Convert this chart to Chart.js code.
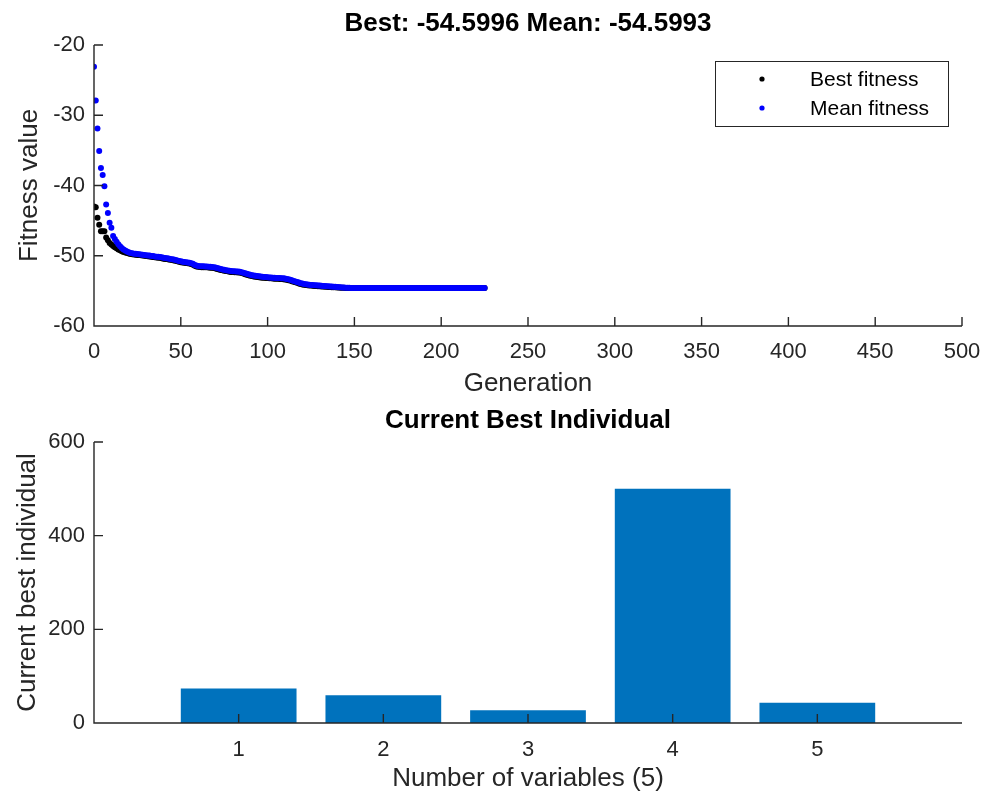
<!DOCTYPE html>
<html><head><meta charset="utf-8">
<script src="https://cdn.jsdelivr.net/npm/chart.js@4"></script>
<style>
html,body{margin:0;padding:0;background:#fff;}
#wrap{position:relative;width:990px;height:798px;background:#fff;}
canvas{position:absolute;left:0;}
#c1{top:0;}
#c2{top:400px;}
</style></head><body>
<div id="wrap">
<canvas id="c1" width="990" height="400"></canvas>
<canvas id="c2" width="990" height="398"></canvas>
</div>
<script>
// ---------- DATA ----------
const topTitle = 'Best: -54.5996 Mean: -54.5993';
const bottomTitle = 'Current Best Individual';
const generations = Array.from({length: 226}, (_, i) => i);
const bestFitness = [
 -43.0,-43.1,-44.6,-45.6,-46.5,-46.5,-46.5,-47.4,-47.8,-48.2,
 -48.4,-48.6,-48.8,-48.95,-49.1,-49.2,-49.35,-49.45,-49.55,-49.62,
 -49.68,-49.74,-49.78,-49.82,-49.85,-49.88,-49.9,-49.94,-49.97,-50.0,
 -50.04,-50.07,-50.1,-50.14,-50.17,-50.22,-50.25,-50.27,-50.3,-50.34,
 -50.42,-50.45,-50.48,-50.52,-50.57,-50.62,-50.67,-50.72,-50.8,-50.87,
 -50.92,-50.97,-51.0,-51.04,-51.07,-51.12,-51.17,-51.27,-51.42,-51.52,
 -51.57,-51.6,-51.62,-51.62,-51.64,-51.65,-51.67,-51.7,-51.72,-51.74,
 -51.8,-51.87,-51.94,-52.02,-52.07,-52.12,-52.17,-52.22,-52.27,-52.3,
 -52.32,-52.34,-52.36,-52.37,-52.4,-52.47,-52.54,-52.62,-52.7,-52.77,
 -52.84,-52.9,-52.94,-52.98,-53.02,-53.05,-53.08,-53.12,-53.14,-53.16,
 -53.18,-53.2,-53.22,-53.24,-53.26,-53.27,-53.29,-53.3,-53.32,-53.34,
 -53.37,-53.42,-53.48,-53.54,-53.62,-53.7,-53.78,-53.86,-53.94,-54.02,
 -54.08,-54.13,-54.17,-54.2,-54.23,-54.25,-54.27,-54.29,-54.31,-54.33,
 -54.35,-54.37,-54.39,-54.4,-54.42,-54.44,-54.45,-54.47,-54.49,-54.5,
 -54.52,-54.53,-54.54,-54.56,-54.57,-54.58,-54.585,-54.59,-54.593,-54.595,
 -54.597,-54.598,-54.599,-54.5995,
 -54.5996,-54.5996,-54.5996,-54.5996,-54.5996,-54.5996,-54.5996,-54.5996,-54.5996,
 -54.5996,-54.5996,-54.5996,-54.5996,-54.5996,-54.5996,-54.5996,-54.5996,-54.5996,
 -54.5996,-54.5996,-54.5996,-54.5996,-54.5996,-54.5996,-54.5996,-54.5996,-54.5996,
 -54.5996,-54.5996,-54.5996,-54.5996,-54.5996,-54.5996,-54.5996,-54.5996,-54.5996,
 -54.5996,-54.5996,-54.5996,-54.5996,-54.5996,-54.5996,-54.5996,-54.5996,-54.5996,
 -54.5996,-54.5996,-54.5996,-54.5996,-54.5996,-54.5996,-54.5996,-54.5996,-54.5996,
 -54.5996,-54.5996,-54.5996,-54.5996,-54.5996,-54.5996,-54.5996,-54.5996,-54.5996,
 -54.5996,-54.5996,-54.5996,-54.5996,-54.5996,-54.5996,-54.5996,-54.5996,-54.5996
];
const meanFitness = [
 -23.1,-27.9,-31.9,-35.1,-37.5,-38.5,-40.1,-42.7,-43.9,-45.3,
 -46.0,-47.2,-47.6,-48.0,-48.35,-48.65,-48.9,-49.1,-49.25,-49.4,
 -49.5,-49.6,-49.65,-49.7,-49.72,-49.75,-49.78,-49.82,-49.85,-49.88,
 -49.92,-49.95,-49.98,-50.02,-50.05,-50.1,-50.13,-50.15,-50.18,-50.22,
 -50.3,-50.33,-50.36,-50.4,-50.45,-50.5,-50.55,-50.6,-50.68,-50.75,
 -50.8,-50.85,-50.88,-50.92,-50.95,-51.0,-51.05,-51.15,-51.3,-51.4,
 -51.45,-51.48,-51.5,-51.5,-51.52,-51.53,-51.55,-51.58,-51.6,-51.62,
 -51.68,-51.75,-51.82,-51.9,-51.95,-52.0,-52.05,-52.1,-52.15,-52.18,
 -52.2,-52.22,-52.24,-52.25,-52.28,-52.35,-52.42,-52.5,-52.58,-52.65,
 -52.72,-52.78,-52.82,-52.86,-52.9,-52.93,-52.96,-53.0,-53.02,-53.04,
 -53.06,-53.08,-53.1,-53.12,-53.14,-53.15,-53.17,-53.18,-53.2,-53.22,
 -53.25,-53.3,-53.36,-53.42,-53.5,-53.58,-53.66,-53.74,-53.82,-53.9,
 -53.96,-54.02,-54.06,-54.1,-54.13,-54.15,-54.17,-54.19,-54.21,-54.23,
 -54.25,-54.27,-54.29,-54.31,-54.33,-54.35,-54.37,-54.39,-54.41,-54.43,
 -54.45,-54.47,-54.49,-54.51,-54.53,-54.55,-54.56,-54.57,-54.58,-54.585,
 -54.59,-54.593,-54.595,-54.597,
 -54.5993,-54.5993,-54.5993,-54.5993,-54.5993,-54.5993,-54.5993,-54.5993,-54.5993,
 -54.5993,-54.5993,-54.5993,-54.5993,-54.5993,-54.5993,-54.5993,-54.5993,-54.5993,
 -54.5993,-54.5993,-54.5993,-54.5993,-54.5993,-54.5993,-54.5993,-54.5993,-54.5993,
 -54.5993,-54.5993,-54.5993,-54.5993,-54.5993,-54.5993,-54.5993,-54.5993,-54.5993,
 -54.5993,-54.5993,-54.5993,-54.5993,-54.5993,-54.5993,-54.5993,-54.5993,-54.5993,
 -54.5993,-54.5993,-54.5993,-54.5993,-54.5993,-54.5993,-54.5993,-54.5993,-54.5993,
 -54.5993,-54.5993,-54.5993,-54.5993,-54.5993,-54.5993,-54.5993,-54.5993,-54.5993,
 -54.5993,-54.5993,-54.5993,-54.5993,-54.5993,-54.5993,-54.5993,-54.5993,-54.5993
];
const variables = [1, 2, 3, 4, 5];
const bestIndividual = [73.5, 59, 27, 500, 43.5];
const barTicks = [1, 2, 3, 4, 5];

// ---------- STYLE ----------
const FONT = "'Liberation Sans', Arial, Helvetica, sans-serif";
const AX = '#262626';
const TICK_SIZE = 22, LABEL_SIZE = 26, TITLE_SIZE = 26, LEGEND_SIZE = 21;
Chart.defaults.font.family = FONT;
Chart.defaults.color = AX;

function fitX(h) { return function (s) { s.height = h; s.paddingLeft = 0; s.paddingRight = 0; }; }
function fitY(s) { s.width = 94; s.paddingTop = 0; s.paddingBottom = 0; }

const axesPlugin = {
  id: 'matlabAxes',
  afterDatasetsDraw(chart) {
    const ctx = chart.ctx, a = chart.chartArea;
    const xs = chart.scales.x, ys = chart.scales.y;
    ctx.save();
    ctx.strokeStyle = AX; ctx.lineWidth = 1.4; ctx.lineCap = 'butt';
    ctx.beginPath();
    ctx.moveTo(a.left, a.top); ctx.lineTo(a.left, a.bottom); ctx.lineTo(a.right, a.bottom);
    xs.ticks.forEach(t => { const p = xs.getPixelForValue(t.value); ctx.moveTo(p, a.bottom); ctx.lineTo(p, a.bottom - 9); });
    ys.ticks.forEach(t => { const p = ys.getPixelForValue(t.value); ctx.moveTo(a.left, p); ctx.lineTo(a.left + 9, p); });
    ctx.stroke();
    ctx.restore();
  }
};

const legendPlugin = {
  id: 'boxLegend',
  afterDraw(chart) {
    if (chart.canvas.id !== 'c1') return;
    const ctx = chart.ctx;
    ctx.save();
    ctx.fillStyle = '#fff';
    ctx.fillRect(715, 61, 233, 65);
    ctx.strokeStyle = AX; ctx.lineWidth = 1;
    ctx.strokeRect(715.5, 61.5, 233, 65);
    const ys = [79, 108];
    chart.data.datasets.forEach((ds, i) => {
      ctx.fillStyle = ds.backgroundColor;
      ctx.beginPath(); ctx.arc(762, ys[i], 2.6, 0, Math.PI * 2); ctx.fill();
      ctx.fillStyle = '#000';
      ctx.font = LEGEND_SIZE + 'px ' + FONT;
      ctx.textBaseline = 'middle'; ctx.textAlign = 'left';
      ctx.fillText(ds.label, 810, ys[i] + 1);
    });
    ctx.restore();
  }
};

new Chart(document.getElementById('c1'), {
  type: 'scatter',
  data: {
    datasets: [
      { label: 'Best fitness', data: generations.map((g, i) => ({x: g, y: bestFitness[i]})),
        backgroundColor: '#000000', borderColor: '#000000', pointRadius: 3, pointBorderWidth: 0, order: 2 },
      { label: 'Mean fitness', data: generations.map((g, i) => ({x: g, y: meanFitness[i]})),
        backgroundColor: '#0000ff', borderColor: '#0000ff', pointRadius: 3, pointBorderWidth: 0, order: 1 }
    ]
  },
  options: {
    responsive: false, animation: false, devicePixelRatio: 1,
    layout: { padding: { left: 0, right: 28, top: 0, bottom: 0 } },
    plugins: {
      legend: { display: false }, tooltip: { enabled: false },
      title: { display: true, text: topTitle, fullSize: false, color: '#000',
        font: { size: TITLE_SIZE, weight: 'bold' }, padding: { top: 8.4, bottom: 5.4 } }
    },
    scales: {
      x: { type: 'linear', min: 0, max: 500,
        ticks: { stepSize: 50, font: { size: TICK_SIZE }, color: AX, padding: 13, maxRotation: 0 },
        grid: { display: false, drawTicks: false }, border: { display: false },
        title: { display: true, text: 'Generation', font: { size: LABEL_SIZE }, color: AX, padding: { top: 0, bottom: 0.4 } },
        afterFit: fitX(74) },
      y: { min: -60, max: -20,
        ticks: { stepSize: 10, font: { size: TICK_SIZE }, color: AX, padding: 9 },
        grid: { display: false, drawTicks: false }, border: { display: false },
        title: { display: true, text: 'Fitness value', font: { size: LABEL_SIZE }, color: AX, padding: { top: 14.4, bottom: 0 } },
        afterFit: fitY }
    }
  },
  plugins: [axesPlugin, legendPlugin]
});

new Chart(document.getElementById('c2'), {
  type: 'bar',
  data: {
    datasets: [
      { label: 'Current best individual', data: variables.map((v, i) => ({x: v, y: bestIndividual[i]})),
        backgroundColor: '#0072bd', borderColor: '#0072bd', borderWidth: 0,
        categoryPercentage: 1, barPercentage: 0.8 }
    ]
  },
  options: {
    responsive: false, animation: false, devicePixelRatio: 1,
    layout: { padding: { left: 0, right: 28, top: 0, bottom: 0 } },
    plugins: {
      legend: { display: false }, tooltip: { enabled: false },
      title: { display: true, text: bottomTitle, fullSize: false, color: '#000',
        font: { size: TITLE_SIZE, weight: 'bold' }, padding: { top: 5.4, bottom: 5.4 } }
    },
    scales: {
      x: { type: 'linear', min: 0, max: 6, offset: false,
        afterBuildTicks(s) { s.ticks = barTicks.map(v => ({ value: v })); },
        ticks: { font: { size: TICK_SIZE }, color: AX, padding: 14, maxRotation: 0 },
        grid: { display: false, drawTicks: false, offset: false }, border: { display: false },
        title: { display: true, text: 'Number of variables (5)', font: { size: LABEL_SIZE }, color: AX, padding: { top: 0, bottom: 3.4 } },
        afterFit: fitX(75) },
      y: { min: 0, max: 600,
        ticks: { stepSize: 200, font: { size: TICK_SIZE }, color: AX, padding: 9 },
        grid: { display: false, drawTicks: false }, border: { display: false },
        title: { display: true, text: 'Current best individual', font: { size: LABEL_SIZE }, color: AX, padding: { top: 12.4, bottom: 0 } },
        afterFit: fitY }
    }
  },
  plugins: [axesPlugin]
});
</script>
</body></html>
